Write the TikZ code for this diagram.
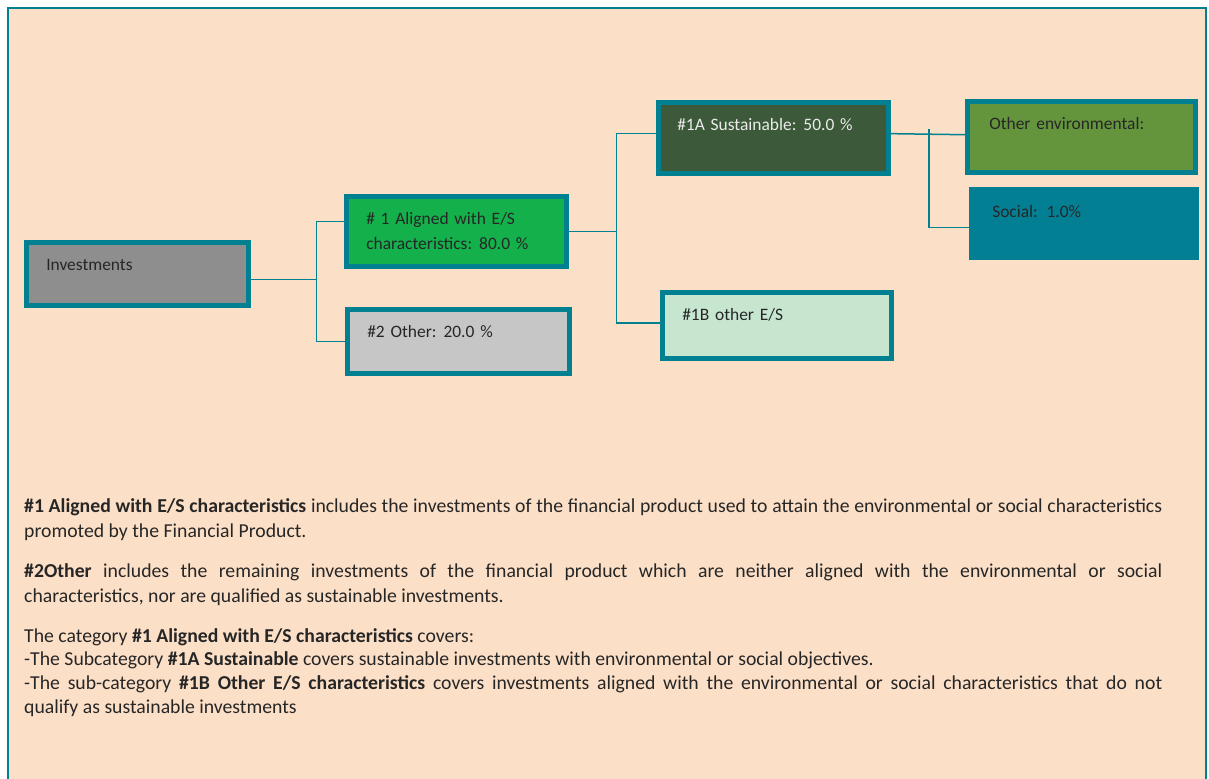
\documentclass[tikz,border=0pt]{standalone}
\usepackage{fontspec}
\setmainfont{Carlito}
\usetikzlibrary{calc, positioning}
\definecolor{peach}{HTML}{FCDFC7}
\definecolor{tealline}{HTML}{008090}
\definecolor{invgray}{HTML}{8E8E8E}
\definecolor{esgreen}{HTML}{14B04C}
\definecolor{othgray}{HTML}{C6C6C6}
\definecolor{susgreen}{HTML}{3C5A3A}
\definecolor{envgreen}{HTML}{64953C}
\definecolor{socteal}{HTML}{037F94}
\definecolor{mint}{HTML}{C6E6D0}
\definecolor{ink}{HTML}{262626}
\tikzstyle{box}=[draw=tealline, line width=4.5bp, anchor=north west, align=left, inner xsep=20bp, inner ysep=6bp, text height=22.6bp, text=ink, font=\fontsize{17.5}{25}\selectfont]
\tikzstyle{link}=[draw=tealline, line width=1.5bp]
\tikzstyle{para}=[anchor=base west, inner sep=0pt, text width=1138bp, align=justify, text=ink]

\begin{document}
\begin{tikzpicture}[x=1bp, y=-1bp]
		\useasboundingbox (0,0) rectangle (1209,779);
		% Frame
		\draw[tealline, fill=peach, line width=2bp] (8,8) rectangle (1206,790);
		% Boxes of the tree
		\node[box, fill=invgray, text width=182bp, text depth=28.4bp] (inv) at (24,240) {Investments};
		\node[box, fill=esgreen, text width=180bp, text depth=35.4bp] (al) at (344,194) {\# 1 Aligned with E/S\\characteristics:\hspace{7bp}80.0 \%};
		\node[box, fill=othgray, text width=182bp, text depth=29.4bp] (oth) at (345,307) {\#2 Other:\hspace{7bp}20.0 \%};
		\node[box, fill=susgreen, text=white!92!black, inner xsep=19bp, text width=192bp, text depth=36.4bp] (sus) at (656,100) {\#1A Sustainable:\hspace{7bp}50.0 \%};
		\node[box, fill=envgreen, inner xsep=22bp, text width=184bp, text depth=36.4bp] (env) at (965,99) {Other environmental:};
		\node[box, draw=socteal, fill=socteal, inner xsep=21bp, text width=183bp, text depth=33.4bp] (soc) at (969,187) {Social: 1.0\%};
		\node[box, fill=mint, text width=189bp, text depth=31.4bp] (oes) at (660,290) {\#1B other E/S};
		% Connectors
		\draw[link] (inv.-3) -- ++(66,0) coordinate (j1);
		\draw[link] (al.175) -| (j1) |- (oth.west);
		\draw[link] (al.east) -- ++(48,0) coordinate (j2);
		\draw[link] (sus.178) -| (j2) |- (oes.179);
		\draw[link] (sus.2) -- (env.179);
		\coordinate (j3) at (929,129);
		\draw[link] (j3) |- (soc.182);
		% Explanations
		\node[para, font=\fontsize{19.8}{26}\selectfont] (p1) at (24,512) {\hyphenpenalty=10000\exhyphenpenalty=10000
			\textbf{\#1 Aligned with E/S characteristics} includes the investments of the financial product used to attain the environmental or social characteristics promoted by the Financial Product.};
		\node[para, font=\fontsize{19.8}{26}\selectfont] (p2) at (24,577) {\hyphenpenalty=10000\exhyphenpenalty=10000
			\textbf{\#2Other} includes the remaining investments of the financial product which are neither aligned with the environmental or social\linebreak characteristics, nor are qualified as sustainable investments.};
		\node[para, font=\fontsize{19.8}{24}\selectfont] (p3) at (24,642) {\hyphenpenalty=10000\exhyphenpenalty=10000
			The category \textbf{\#1 Aligned with E/S characteristics} covers:\\
			-The Subcategory \textbf{\#1A Sustainable} covers sustainable investments with environmental or social objectives.\\
			-The sub-category \textbf{\#1B Other E/S characteristics} covers investments aligned with the environmental or social characteristics that do not\linebreak qualify as sustainable investments};
	\end{tikzpicture}
\end{document}
